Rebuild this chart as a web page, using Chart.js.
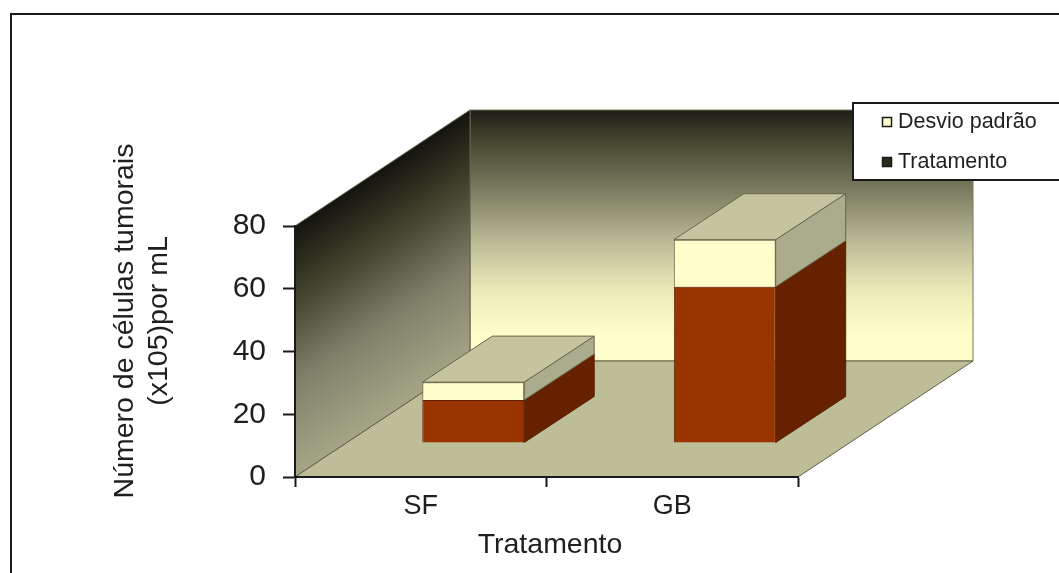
<!DOCTYPE html>
<html>
<head>
<meta charset="utf-8">
<script src="https://cdn.jsdelivr.net/npm/chart.js@4"></script>
<style>
  body { margin: 0; background: #fff; }
  /* the reference is a soft jpeg */
  canvas { display: block; filter: blur(0.5px); }
</style>
</head>
<body>
<canvas id="chart" width="1059" height="573"></canvas>
<script>
'use strict';

let ctx = document.getElementById('chart');

// values
const categories = ['SF', 'GB'];
const tratamento = [13.7, 49.8];
const desvioPadrao = [5.7, 15];
const yMax = 80;
const yStep = 20;
const yTitle = ['Número de células tumorais', '(x105)por mL'];
const xTitle = 'Tratamento';

const fontName = '"Liberation Sans", Arial, sans-serif';
const textColor = '#1f1f1f';

// how far the back wall sits from the axes, and the bars inside that depth
const wallDepth = { x: 175, y: -116 };
const barShift = { x: 52.5, y: -34 };
const barDepth = { x: 70, y: -46 };

function poly(c, pts, fill, stroke) {
  c.beginPath();
  c.moveTo(pts[0][0], pts[0][1]);
  for (let i = 1; i < pts.length; i++) c.lineTo(pts[i][0], pts[i][1]);
  c.closePath();
  c.fillStyle = fill;
  c.fill();
  if (stroke) {
    c.strokeStyle = stroke;
    c.lineWidth = 1;
    c.stroke();
  }
}

// frame, walls and floor go under the scales
const walls = {
  id: 'walls',
  beforeDraw(chart) {
    let c = chart.ctx;
    let a = chart.chartArea;
    let d = wallDepth;

    c.save();
    c.strokeStyle = '#1a1a1a';
    c.lineWidth = 2;
    c.beginPath();
    c.moveTo(11, 573);
    c.lineTo(11, 14);
    c.lineTo(1059, 14);
    c.stroke();

    let back = c.createLinearGradient(0, a.top + d.y, 0, a.bottom + d.y);
    back.addColorStop(0, '#1d1d15');
    back.addColorStop(0.12, '#45452f');
    back.addColorStop(0.33, '#7f7f63');
    back.addColorStop(0.52, '#b9b995');
    back.addColorStop(0.72, '#ebebb8');
    back.addColorStop(0.9, '#ffffcc');
    back.addColorStop(1, '#ffffcc');
    poly(c, [
      [a.left + d.x, a.top + d.y],
      [a.right + d.x, a.top + d.y],
      [a.right + d.x, a.bottom + d.y],
      [a.left + d.x, a.bottom + d.y]
    ], back, '#77775c');

    // side wall shades across the slanted top edge
    let len = Math.hypot(d.x, d.y);
    let nx = -d.y / len;
    let ny = d.x / len;
    let reach = (a.bottom - a.top) * ny;
    let side = c.createLinearGradient(a.left, a.top, a.left + nx * reach, a.top + ny * reach);
    side.addColorStop(0, '#14140e');
    side.addColorStop(0.3, '#45452f');
    side.addColorStop(0.62, '#80806a');
    side.addColorStop(1, '#a5a586');
    poly(c, [
      [a.left, a.top],
      [a.left + d.x, a.top + d.y],
      [a.left + d.x, a.bottom + d.y],
      [a.left, a.bottom]
    ], side, '#5f5f45');

    poly(c, [
      [a.left, a.bottom],
      [a.right, a.bottom],
      [a.right + d.x, a.bottom + d.y],
      [a.left + d.x, a.bottom + d.y]
    ], '#bdbd98', '#5f5f45');
    c.restore();
  },

  // bars stand inside the floor, so shift them and add their side and top
  beforeDatasetsDraw(chart) {
    let c = chart.ctx;
    let d = barDepth;
    c.save();
    c.translate(barShift.x, barShift.y);

    chart.data.datasets.forEach(function(set, i) {
      chart.getDatasetMeta(i).data.forEach(function(bar) {
        let r = bar.x + bar.width / 2;
        let l = bar.x - bar.width / 2;
        poly(c, [
          [r, bar.y],
          [r + d.x, bar.y + d.y],
          [r + d.x, bar.base + d.y],
          [r, bar.base]
        ], set.sideColor, set.borderColor);
        if (i === chart.data.datasets.length - 1) {
          poly(c, [
            [l, bar.y],
            [r, bar.y],
            [r + d.x, bar.y + d.y],
            [l + d.x, bar.y + d.y]
          ], '#c4c49e', set.borderColor);
        }
      });
    });
  },
  afterDatasetsDraw(chart) {
    chart.ctx.restore();
  },

  afterDraw(chart) {
    let c = chart.ctx;
    c.save();

    // axis titles sit off centre in the reference, so they are placed by hand
    c.fillStyle = textColor;
    c.textAlign = 'center';
    c.textBaseline = 'alphabetic';
    c.font = '28.5px ' + fontName;
    c.fillText(xTitle, 550, 553);
    c.save();
    c.translate(133, 321);
    c.rotate(-Math.PI / 2);
    c.fillText(yTitle[0], 0, 0);
    c.fillText(yTitle[1], 0, 34);
    c.restore();

    // legend box lies over the back wall
    c.fillStyle = '#fff';
    c.fillRect(853, 103, 206, 77);
    c.strokeStyle = '#1a1a1a';
    c.lineWidth = 2;
    c.beginPath();
    c.moveTo(1059, 103);
    c.lineTo(853, 103);
    c.lineTo(853, 180);
    c.lineTo(1059, 180);
    c.stroke();

    c.font = '21.5px ' + fontName;
    c.textBaseline = 'middle';
    c.textAlign = 'left';
    c.lineWidth = 1.5;
    c.strokeStyle = '#1a1a1a';

    c.fillStyle = '#ffffcc';
    c.fillRect(882.5, 117.5, 9, 9);
    c.strokeRect(882.5, 117.5, 9, 9);
    c.fillStyle = '#2b2b1c';
    c.fillRect(882.5, 157.5, 9, 9);
    c.strokeRect(882.5, 157.5, 9, 9);

    c.fillStyle = textColor;
    c.fillText(chart.data.datasets[1].label, 898, 122);
    c.fillText(chart.data.datasets[0].label, 898, 162);
    c.restore();
  }
};

function renderChart() {
  let chartData = {
    type: 'bar',
    data: {
      labels: categories,
      datasets: [
        {
          label: 'Tratamento',
          data: tratamento,
          backgroundColor: '#993300',
          sideColor: '#662200',
          borderColor: '#5c2000',
          borderWidth: 1
        },
        {
          label: 'Desvio padrão',
          data: desvioPadrao,
          backgroundColor: '#ffffcc',
          sideColor: '#abab8e',
          borderColor: '#66664a',
          borderWidth: 1
        }
      ]
    },
    options: {
      responsive: false,
      animation: false,
      clip: false,
      layout: { padding: { left: 100, right: 261, top: 226, bottom: 0 } },
      categoryPercentage: 1,
      barPercentage: 0.405,
      plugins: {
        legend: { display: false },
        tooltip: { enabled: false }
      },
      scales: {
        x: {
          stacked: true,
          afterFit: function(scale) { scale.height = 96; },
          border: { color: '#1a1a1a', width: 2 },
          grid: { drawOnChartArea: false, tickLength: 10, tickColor: '#1a1a1a', tickWidth: 2 },
          ticks: { color: textColor, padding: 3, font: { family: fontName, size: 27 } }
        },
        y: {
          stacked: true,
          min: 0,
          max: yMax,
          afterFit: function(scale) { scale.width = 195; },
          border: { color: '#1a1a1a', width: 2 },
          grid: { drawOnChartArea: false, tickLength: 12, tickColor: '#1a1a1a', tickWidth: 2 },
          ticks: {
            stepSize: yStep,
            color: textColor,
            padding: 17,
            font: { family: fontName, size: 30 }
          }
        }
      }
    },
    plugins: [walls]
  };

  new Chart(ctx, chartData);
}

renderChart();
</script>
</body>
</html>
